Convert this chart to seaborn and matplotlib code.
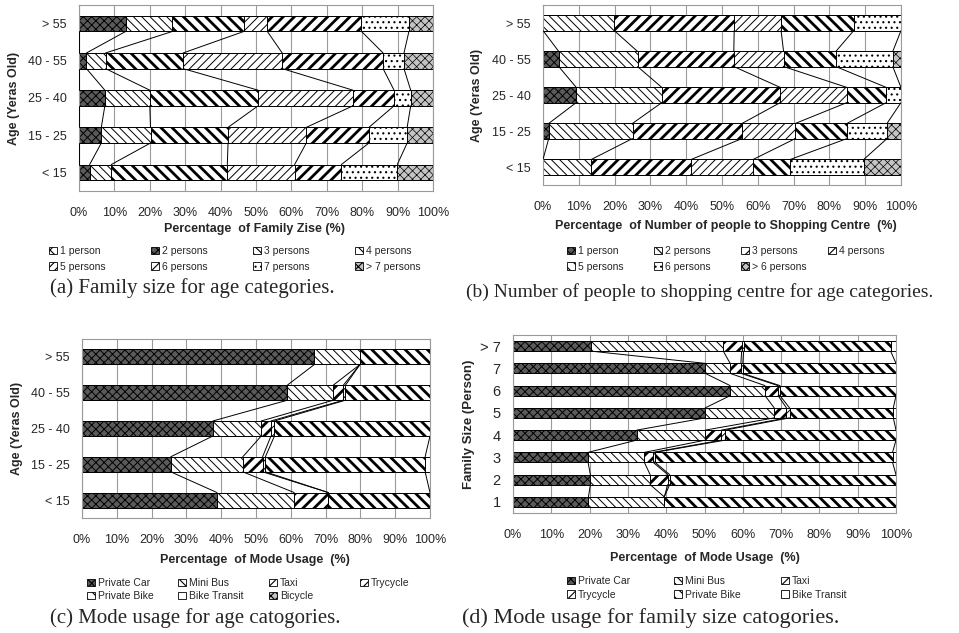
import numpy as np
import matplotlib
matplotlib.use('Agg')
import matplotlib.pyplot as plt
import matplotlib.patches as mpatches
import seaborn as sns

# =========================================
# DATA  (% share per row, rows listed top -> bottom)
# =========================================
age_rows = ['> 55', '40 - 55', '25 - 40', '15 - 25', '< 15']

# (a) family size by age
fam_labels = ['1 person', '2 persons', '3 persons', '4 persons',
              '5 persons', '6 persons', '7 persons', '> 7 persons']
fam_1 = [0, 0, 0, 0, 0]
fam_2 = [13.2, 2.1, 7.3, 6.3, 3.0]
fam_3 = [13.2, 5.4, 12.7, 13.9, 6.1]
fam_4 = [20.2, 21.9, 30.6, 21.9, 32.8]
fam_5 = [6.6, 28.0, 26.8, 22.1, 19.0]
fam_6 = [26.6, 28.5, 11.6, 17.7, 13.2]
fam_7 = [13.4, 5.9, 4.7, 10.8, 15.8]
fam_gt7 = [6.8, 8.2, 6.3, 7.3, 10.1]

# (b) number of people to shopping centre by age
shop_labels = ['1 person', '2 persons', '3 persons', '4 persons',
               '5 persons', '6 persons', '> 6 persons']
shop_1 = [0, 4.4, 9.3, 1.6, 0]
shop_2 = [19.9, 22.0, 23.9, 23.4, 13.5]
shop_3 = [33.5, 26.9, 33.1, 30.6, 27.9]
shop_4 = [13.1, 13.9, 18.6, 14.9, 17.3]
shop_5 = [20.3, 14.6, 11.0, 14.4, 10.4]
shop_6 = [13.2, 15.9, 4.1, 11.2, 20.5]
shop_gt6 = [0, 2.3, 0, 3.9, 10.4]

# (c) mode usage by age
mode_labels_c = ['Private Car', 'Mini Bus', 'Taxi', 'Trycycle',
                 'Private Bike', 'Bike Transit', 'Bicycle']
age_car = [66.8, 59.0, 37.6, 25.5, 38.8]
age_minibus = [13.1, 13.2, 13.9, 20.7, 22.2]
age_taxi = [0, 2.9, 2.8, 5.7, 9.8]
age_trycycle = [0, 0.6, 1.0, 0.8, 0]
age_pbike = [20.1, 24.3, 44.7, 45.9, 29.2]
age_transit = [0, 0, 0, 1.4, 0]
age_bicycle = [0, 0, 0, 0, 0]

# (d) mode usage by family size
fam_rows = ['> 7', '7', '6', '5', '4', '3', '2', '1']
mode_labels_d = ['Private Car', 'Mini Bus', 'Taxi', 'Trycycle',
                 'Private Bike', 'Bike Transit']
fs_car = [20.4, 50.2, 56.7, 50.2, 32.3, 19.6, 20.2, 19.7]
fs_minibus = [34.5, 6.5, 9.1, 18.0, 17.9, 14.7, 15.6, 19.8]
fs_taxi = [4.8, 2.8, 3.4, 3.2, 4.2, 2.3, 4.6, 0]
fs_trycycle = [0.5, 0.5, 0.5, 0.8, 1.0, 0.5, 0.5, 0]
fs_pbike = [38.4, 40.0, 30.3, 27.1, 44.6, 62.0, 59.1, 60.5]
fs_transit = [1.4, 0, 0, 0.7, 0, 0.9, 0, 0]

# =========================================
# STYLE
# =========================================
sns.set_theme(style='white')
plt.rcParams['font.family'] = ['Liberation Sans', 'DejaVu Sans']
plt.rcParams['hatch.linewidth'] = 0.8

# facecolor, hatch, hatch linewidth
PAT = {
    'dark_x': ('#5a5a5a', 'xxxx', 0.7),
    'light_bs': ('white', '\\\\\\\\', 0.7),
    'dark_bs': ('white', '\\\\\\', 2.0),
    'light_fs': ('white', '////', 0.7),
    'dark_fs': ('white', '///', 2.0),
    'dots': ('white', '...', 0.8),
    'gray_x': ('#c4c4c4', 'xxxx', 0.5),
    'box_x': ('white', 'xx', 0.8),
    'plain': ('white', '', 0.8),
}

W, H = 959, 633
SERIF = ['Liberation Serif', 'DejaVu Serif']


def px(x, y):
    return x / W, 1 - y / H


def set_hlw(p, v):
    if hasattr(p, 'set_hatch_linewidth'):
        p.set_hatch_linewidth(v)
    else:
        p._hatch_linewidth = v


def stacked_panel(ax, rows, shares, styles, bar_w):
    cum = np.cumsum(np.array(shares, dtype=float), axis=0)
    # overlay cumulative bars, longest first
    for k in range(len(shares) - 1, -1, -1):
        fc, hatch, hlw = PAT[styles[k]]
        n0 = len(ax.patches)
        sns.barplot(x=cum[k], y=rows, order=rows, orient='h', color=fc,
                    saturation=1, edgecolor='black', linewidth=0.7,
                    width=bar_w, errorbar=None, hatch=hatch, ax=ax)
        for p in ax.patches[n0:]:
            set_hlw(p, hlw)
    # series lines between neighbouring bars
    for k in range(len(shares)):
        for j in range(len(rows) - 1):
            ax.plot([cum[k][j], cum[k][j + 1]],
                    [j + bar_w / 2, j + 1 - bar_w / 2],
                    color='black', lw=0.7, zorder=4)
    n = len(rows)
    ax.set_xlim(0, 100)
    ax.set_ylim(n - 0.5, -0.5)
    ax.set_xticks(np.arange(0, 101, 10))
    ax.set_xticklabels([f'{v}%' for v in range(0, 101, 10)], fontsize=9)
    ax.set_yticks(range(n))
    ax.set_yticks(np.arange(-0.5, n, 1), minor=True)
    ax.tick_params(axis='y', which='major', length=0, pad=9)
    ax.tick_params(axis='y', which='minor', length=4, width=0.8,
                   color='#888888', direction='out')
    ax.tick_params(axis='x', length=7, width=0.8, color='#888888',
                   direction='inout', pad=8)
    ax.grid(axis='x', color='#9a9a9a', lw=0.8)
    ax.set_axisbelow(True)
    for s in ax.spines.values():
        s.set_color('#9a9a9a')
        s.set_linewidth(0.8)
    ax.set_xlabel('')
    ax.set_ylabel('')


def legend_grid(fig, labels, styles, x0, pitch, y0, dy, ncol):
    for i, (lab, st) in enumerate(zip(labels, styles)):
        fc, hatch, hlw = PAT[st]
        h = mpatches.Patch(facecolor=fc, edgecolor='black', hatch=hatch, lw=0.6)
        set_hlw(h, min(hlw, 1.0))
        r, c = divmod(i, ncol)
        fig.legend([h], [lab], loc='center left',
                   bbox_to_anchor=px(x0 + c * pitch, y0 + r * dy),
                   frameon=False, fontsize=7.5, borderpad=0,
                   handlelength=0.75, handleheight=0.75, handletextpad=0.3)


fig = plt.figure(figsize=(W / 100, H / 100), dpi=100)


def add_ax(l, t, r, b):
    return fig.add_axes([l / W, 1 - b / H, (r - l) / W, (b - t) / H])


# ---- (a) ----
ax_a = add_ax(79, 5, 433, 191)
sty_a = ['box_x', 'dark_x', 'light_bs', 'dark_bs', 'light_fs', 'dark_fs', 'dots', 'gray_x']
stacked_panel(ax_a, age_rows,
              [fam_1, fam_2, fam_3, fam_4, fam_5, fam_6, fam_7, fam_gt7], sty_a, 0.42)
ax_a.set_yticklabels(age_rows, fontsize=9)
fig.text(*px(255, 229), 'Percentage  of Family Zise (%)', ha='center', va='center',
         fontsize=9, fontweight='bold')
fig.text(*px(14, 98), 'Age (Yeras Old)', ha='center', va='center', rotation=90,
         fontsize=9, fontweight='bold')
legend_grid(fig, fam_labels, sty_a, 44, 102, 251, 15.5, 4)
fig.text(*px(50, 288), '(a) Family size for age categories.', ha='left', va='center',
         fontsize=15, family=SERIF)

# ---- (b) ----
ax_b = add_ax(543, 5, 901, 185)
sty_b = ['dark_x', 'light_bs', 'dark_fs', 'light_fs', 'dark_bs', 'dots', 'gray_x']
stacked_panel(ax_b, age_rows,
              [shop_1, shop_2, shop_3, shop_4, shop_5, shop_6, shop_gt6], sty_b, 0.42)
ax_b.set_yticklabels(age_rows, fontsize=9)
fig.text(*px(726, 226), 'Percentage  of Number of people to Shopping Centre  (%)',
         ha='center', va='center', fontsize=9, fontweight='bold')
fig.text(*px(477, 95), 'Age (Yeras Old)', ha='center', va='center', rotation=90,
         fontsize=9, fontweight='bold')
legend_grid(fig, shop_labels, sty_b, 562, 87, 251, 15.5, 4)
fig.text(*px(466, 292), '(b) Number of people to shopping centre for age categories.',
         ha='left', va='center', fontsize=14, family=SERIF)

# ---- (c) ----
ax_c = add_ax(82, 339, 430, 518)
sty_c = ['dark_x', 'light_bs', 'dark_fs', 'light_fs', 'dark_bs', 'plain', 'gray_x']
stacked_panel(ax_c, age_rows,
              [age_car, age_minibus, age_taxi, age_trycycle, age_pbike,
               age_transit, age_bicycle], sty_c, 0.42)
ax_c.set_yticklabels(age_rows, fontsize=9)
fig.text(*px(255, 560), 'Percentage  of Mode Usage  (%)', ha='center', va='center',
         fontsize=9, fontweight='bold')
fig.text(*px(17, 428), 'Age (Yeras Old)', ha='center', va='center', rotation=90,
         fontsize=9, fontweight='bold')
legend_grid(fig, mode_labels_c, sty_c, 82, 91, 583, 13, 4)
fig.text(*px(50, 618), '(c) Mode usage for age catogories.', ha='left', va='center',
         fontsize=15, family=SERIF)

# ---- (d) ----
ax_d = add_ax(513, 335, 896, 513)
sty_d = ['dark_x', 'light_bs', 'dark_fs', 'light_fs', 'dark_bs', 'plain']
stacked_panel(ax_d, fam_rows,
              [fs_car, fs_minibus, fs_taxi, fs_trycycle, fs_pbike, fs_transit],
              sty_d, 0.45)
ax_d.set_yticklabels(fam_rows, fontsize=10.5)
fig.text(*px(705, 558), 'Percentage  of Mode Usage  (%)', ha='center', va='center',
         fontsize=9, fontweight='bold')
fig.text(*px(469, 424), 'Family Size (Person)', ha='center', va='center', rotation=90,
         fontsize=9.5, fontweight='bold')
legend_grid(fig, mode_labels_d, sty_d, 562, 107, 581, 13.5, 3)
fig.text(*px(462, 618), '(d) Mode usage for family size catogories.', ha='left',
         va='center', fontsize=16, family=SERIF)

fig.savefig('out.png', dpi=100)
